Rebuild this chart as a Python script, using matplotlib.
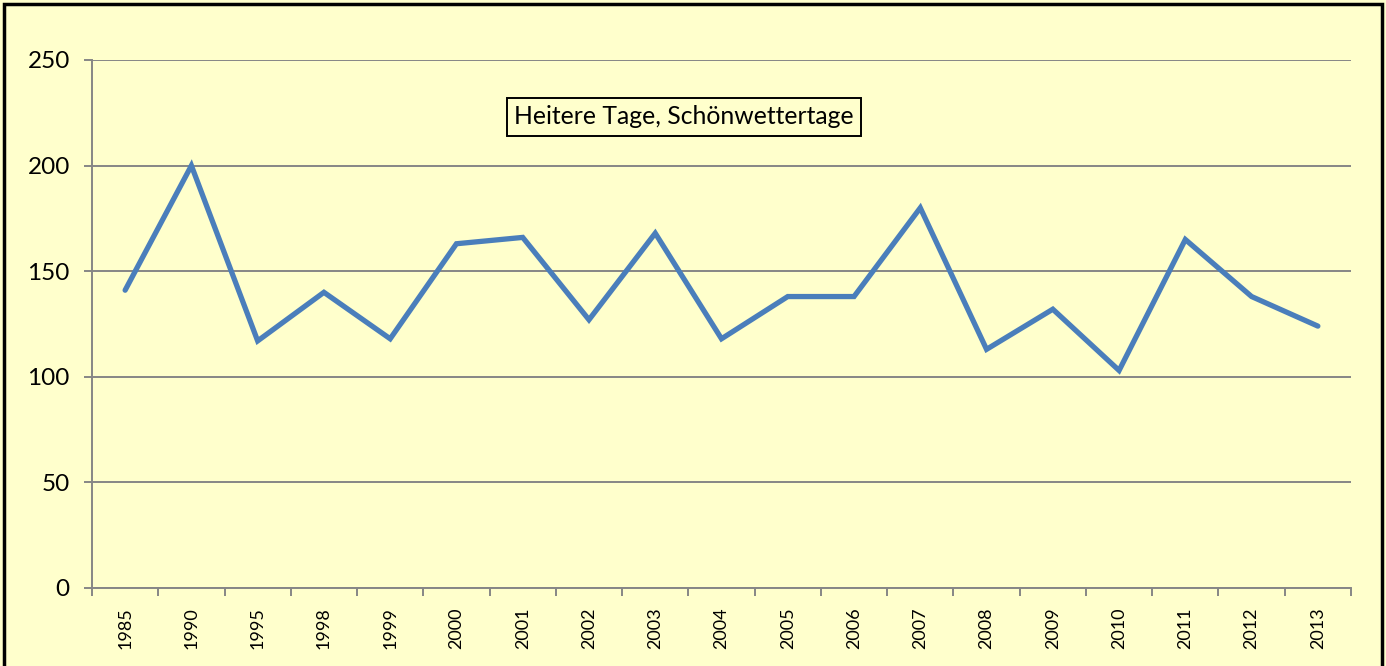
import matplotlib
matplotlib.use("Agg")
import matplotlib.pyplot as plt
from matplotlib.patches import Rectangle
import numpy as np

plt.rcParams["font.family"] = ["Lato", "DejaVu Sans"]

# data
years = ["1985", "1990", "1995", "1998", "1999", "2000", "2001", "2002", "2003", "2004",
         "2005", "2006", "2007", "2008", "2009", "2010", "2011", "2012", "2013"]
days = [141, 200, 117, 140, 118, 163, 166, 127, 168, 118,
        138, 138, 180, 113, 132, 103, 165, 138, 124]
title = "Heitere Tage, Schönwettertage"

BG = "#ffffcc"
LINE = "#4a7ebb"
GRAY = "#868686"

fig = plt.figure(figsize=(13.86, 6.66), dpi=100, facecolor=BG)
ax = fig.add_axes([92 / 1386, 1 - 588 / 666, (1351 - 92) / 1386, (588 - 60) / 666])
ax.set_facecolor(BG)

x = np.arange(len(years))
ax.plot(x, days, color=LINE, lw=3.8, solid_joinstyle="miter", solid_capstyle="round", zorder=3)

ax.set_xlim(-0.5, len(years) - 0.5)
ax.set_ylim(0, 250)
ax.set_yticks(np.arange(0, 251, 50))
ax.grid(axis="y", color=GRAY, lw=1.4)
ax.set_axisbelow(True)

ax.set_xticks(x)
ax.set_xticklabels(years, rotation=90, fontsize=13)
ax.set_xticks(np.arange(-0.5, len(years)), minor=True)
ax.tick_params(axis="x", which="major", length=0, pad=14)
ax.tick_params(axis="x", which="minor", length=6, width=1.4, color=GRAY)
ax.tick_params(axis="y", length=6, width=1.4, color=GRAY, labelsize=17.5, pad=10)

for s in ("top", "right"):
    ax.spines[s].set_visible(False)
for s in ("left", "bottom"):
    ax.spines[s].set_color(GRAY)
    ax.spines[s].set_linewidth(1.4)

fig.text(684 / 1386, 1 - 117 / 666, title, ha="center", va="center", fontsize=17.8,
         bbox=dict(boxstyle="square,pad=0.3", facecolor=BG, edgecolor="black", lw=1.4))

fig.patches.append(Rectangle((4 / 1386, -0.01), 1378 / 1386, 1 - 4 / 666 + 0.01,
                             transform=fig.transFigure, fill=False, edgecolor="black", lw=2.5))

fig.savefig("out.png", dpi=100, facecolor=BG)
